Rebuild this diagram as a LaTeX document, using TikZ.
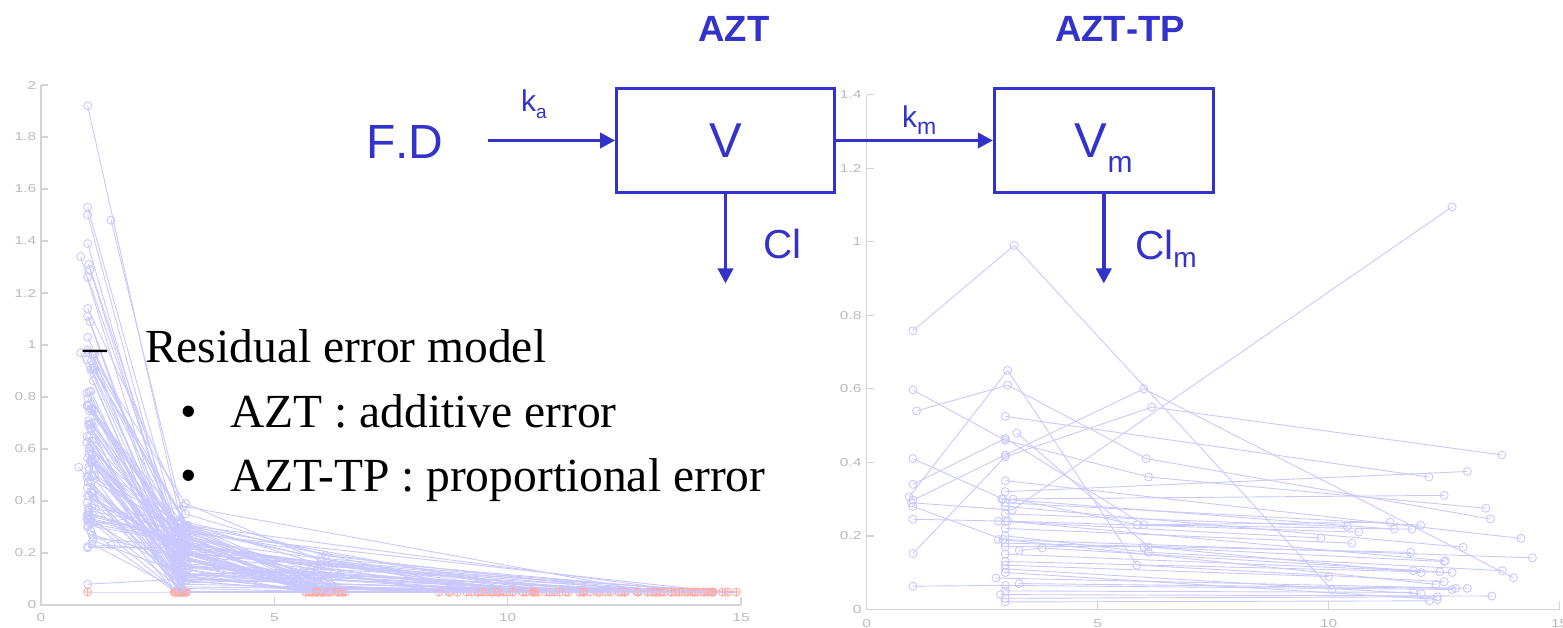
\documentclass[tikz,border=0pt]{standalone}
\usepackage{fontspec}
\setmainfont{Liberation Serif}
\newfontfamily\arialfont[Kerning=Off]{Liberation Sans}
\usepackage{graphicx}
\usetikzlibrary{arrows.meta}

\definecolor{pkblue}{RGB}{51,51,204}
\definecolor{lavline}{RGB}{200,200,255}
\definecolor{blqpink}{RGB}{255,172,168}
\definecolor{axisgray}{RGB}{212,212,212}
\definecolor{ticklabel}{RGB}{186,186,186}

\newcommand\fsz[1]{\fontsize{#1}{#1}\selectfont}
\newcommand\ticktxt[1]{\scalebox{1.35}[1]{#1}}

% pink marker for a sample below the quantification limit
\newcommand\blqat[1]{\draw[blqc] #1 circle (4) #1 ++(-4.5,0) -- ++(9,0) #1 ++(0,-4.5) -- ++(0,9);}

% one AZT profile (time/conc list), closed by a BLQ sample at time #2
\newcommand\lsubj[2]{%
  \foreach \xt/\yc [count=\kk, remember=\xt as \xtp, remember=\yc as \ycp] in {#1}{%
    \ifnum\kk>1 \draw[lv] ({lx(\xtp)},{ly(\ycp)}) -- ({lx(\xt)},{ly(\yc)});\fi
    \draw[lv] ({lx(\xt)},{ly(\yc)}) circle (4);
    \xdef\lastxt{\xt}\xdef\lastyc{\yc}%
  }%
  \draw[lv] ({lx(\lastxt)},{ly(\lastyc)}) -- ({lx(#2)},{ly(0.05)});
  \blqat{({lx(#2)},{ly(0.05)})}%
}
% one AZT-TP profile (time/conc list)
\newcommand\rsubj[1]{%
  \foreach \xt/\yc [count=\kk, remember=\xt as \xtp, remember=\yc as \ycp] in {#1}{%
    \ifnum\kk>1 \draw[lv] ({rx(\xtp)},{ry(\ycp)}) -- ({rx(\xt)},{ry(\yc)});\fi
    \draw[lv] ({rx(\xt)},{ry(\yc)}) circle (4);
  }%
}

\tikzset{
  lv/.style={draw=lavline, line width=0.9pt},
  blqc/.style={draw=blqpink, line width=0.9pt},
  axisline/.style={draw=axisgray, line width=1.4pt},
  ticklab/.style={text=ticklabel, font=\arialfont\fsz{11.5}, inner sep=0pt},
  comp/.style={draw=pkblue, line width=2.7pt, minimum width=218pt, minimum height=104.5pt,
    text height=35pt, text depth=0pt, inner sep=0pt, text=pkblue, font=\arialfont\fsz{49}},
  flow/.style={draw=pkblue, line width=3.6pt, -{Triangle[length=15pt,width=15pt]}},
  bluetext/.style={text=pkblue, inner sep=0pt},
  slide/.style={text=black, inner sep=0pt, font=\fsz{47.5}},
}

\begin{document}
\begin{tikzpicture}[x=1pt, y=-1pt,
  declare function={lx(\q)=41+46.67*\q; ly(\q)=605-260*\q;
                    rx(\q)=866.7+46.2*\q; ry(\q)=609.3-367.5*\q;}]
\useasboundingbox (0,0) rectangle (1563,628);
\clip (0,0) rectangle (1563,628);

% ---------- left axes (AZT) ----------
\draw[axisline] ({lx(0)},{ly(2)}) -- ({lx(0)},{ly(0)}) -- ({lx(15)},{ly(0)});
\foreach \lab [count=\kk from 0] in {0,0.2,0.4,0.6,0.8,1,1.2,1.4,1.6,1.8,2}{
  \draw[axisline] ({lx(0)},{ly(\lab)}) -- ++(7,0);
  \node[ticklab, anchor=east] (lyt\kk) at ({lx(0)-4.5},{ly(\lab)}) {\ticktxt{\lab}};
}
\foreach \lab in {0,5,10,15}{
  \draw[axisline] ({lx(\lab)},{ly(0)}) -- ++(0,-8);
  \node[ticklab] (lxt\lab) at ({lx(\lab)},618) {\ticktxt{\lab}};
}

% ---------- right axes (AZT-TP) ----------
\draw[axisline] ({rx(0)},{ry(1.4)}) -- ({rx(0)},{ry(0)}) -- ({rx(15)},{ry(0)});
\foreach \lab [count=\kk from 0] in {0,0.2,0.4,0.6,0.8,1,1.2,1.4}{
  \draw[axisline] ({rx(0)},{ry(\lab)}) -- ++(7,0);
  \node[ticklab, anchor=east] (ryt\kk) at ({rx(0)-5},{ry(\lab)}) {\ticktxt{\lab}};
}
\foreach \lab in {0,5,10,15}{
  \draw[axisline] ({rx(\lab)},{ry(0)}) -- ++(0,-8);
  \node[ticklab] (rxt\lab) at ({rx(\lab)},623.3) {\ticktxt{\lab}};
}

% ---------- AZT concentrations ----------
\lsubj{1.0/1.92, 3.0/0.32, 6.1/0.15}{14.9}
\lsubj{1.0/1.53, 3.0/0.25, 5.9/0.12}{13.2}
\lsubj{1.0/1.50, 2.95/0.2}{12.5}
\lsubj{1.5/1.48, 3.1/0.3, 6.0/0.18}{14.3}
\lsubj{1.0/1.39, 3.0/0.15}{11.0}
\lsubj{0.85/1.34, 2.95/0.12, 6.2/0.08}{13.8}
\lsubj{1.02/1.31, 3.05/0.22}{12.1}
\lsubj{1.05/1.29, 3.0/0.18, 5.8/0.1}{10.4}
\lsubj{1.0/1.26, 2.9/0.28}{14.6}
\lsubj{1.0/1.14, 3.1/0.35, 6.1/0.19}{13.0}
\lsubj{1.0/1.11, 3.0/0.1}{11.6}
\lsubj{1.05/1.09, 2.95/0.16}{12.8}
\lsubj{1.0/1.03, 3.0/0.27, 6.0/0.14}{14.0}
\lsubj{0.85/0.97, 3.0/0.08}{10.9}
\lsubj{0.81/0.53, 3.0/0.07}{11.3}
\lsubj{1.0/0.08, 3.0/0.1}{12.2}
\lsubj{1.0/0.225, 1.5/0.23, 3.0/0.2}{13.5}
\lsubj{1.0/0.22, 3.0/0.22}{9.8}
\lsubj{1.0/0.98, 3.1/0.39, 6.0/0.17}{14.4}
\lsubj{1.0/0.3, 3.05/0.38}{13.1}
\draw[lv] ({lx(1.0)},{ly(0.05)}) -- ({lx(3.0)},{ly(0.05)}) -- ({lx(14.9)},{ly(0.05)});
\blqat{({lx(1.0)},{ly(0.05)})}
\blqat{({lx(3.0)},{ly(0.05)})}

\pgfmathsetseed{31415}
\foreach \i in {1,...,84}{
  \pgfmathsetmacro\ta{0.98+0.17*rnd}
  \pgfmathsetmacro\ca{0.22+0.9*(0.75*rnd+0.25*rnd*rnd)}
  \pgfmathsetmacro\tb{2.85+0.32*rnd}
  \pgfmathsetmacro\cb{0.06+0.35*(0.7*rnd+0.3*rnd*rnd)}
  \pgfmathtruncatemacro\bb{rnd<0.14}
  \pgfmathsetmacro\tc{5.55+1.0*rnd}
  \pgfmathsetmacro\cc{0.06+0.13*rnd*rnd}
  \pgfmathtruncatemacro\bc{rnd<0.3}
  \pgfmathsetmacro\td{8.5+6.3*rnd}
  \pgfmathtruncatemacro\kind{rnd<0.45 ? 0 : (rnd<0.6 ? 1 : 2)}
  \draw[lv] ({lx(\ta)},{ly(\ca)}) circle (4);
  \ifnum\bb=1
    \draw[lv] ({lx(\ta)},{ly(\ca)}) -- ({lx(\tb)},{ly(0.05)}) -- ({lx(\td)},{ly(0.05)});
    \blqat{({lx(\tb)},{ly(0.05)})}
    \blqat{({lx(\td)},{ly(0.05)})}
  \else
    \draw[lv] ({lx(\ta)},{ly(\ca)}) -- ({lx(\tb)},{ly(\cb)});
    \draw[lv] ({lx(\tb)},{ly(\cb)}) circle (4);
    \ifnum\kind=2
      \draw[lv] ({lx(\tb)},{ly(\cb)}) -- ({lx(\td)},{ly(0.05)});
      \blqat{({lx(\td)},{ly(0.05)})}
    \else
      \ifnum\bc=1
        \draw[lv] ({lx(\tb)},{ly(\cb)}) -- ({lx(\tc)},{ly(0.05)});
        \blqat{({lx(\tc)},{ly(0.05)})}
        \ifnum\kind=0
          \draw[lv] ({lx(\tc)},{ly(0.05)}) -- ({lx(\td)},{ly(0.05)});
          \blqat{({lx(\td)},{ly(0.05)})}
        \fi
      \else
        \draw[lv] ({lx(\tb)},{ly(\cb)}) -- ({lx(\tc)},{ly(\cc)});
        \draw[lv] ({lx(\tc)},{ly(\cc)}) circle (4);
        \ifnum\kind=0
          \draw[lv] ({lx(\tc)},{ly(\cc)}) -- ({lx(\td)},{ly(0.05)});
          \blqat{({lx(\td)},{ly(0.05)})}
        \fi
      \fi
    \fi
  \fi
}

% ---------- AZT-TP concentrations ----------
\rsubj{1.0/0.758, 3.19/0.99, 10.07/0.053}
\rsubj{1.0/0.597, 3.0/0.46, 6.1/0.36, 13.4/0.275}
\rsubj{1.08/0.54, 3.05/0.61, 6.05/0.41, 13.5/0.246}
\rsubj{1.0/0.41, 2.95/0.30, 12.5/0.31}
\rsubj{1.0/0.34, 3.0/0.465, 6.0/0.23, 11.33/0.237}
\rsubj{0.92/0.306, 3.05/0.65, 5.85/0.12, 12.5/0.075}
\rsubj{1.0/0.297, 3.0/0.42, 6.0/0.60, 14.0/0.086}
\rsubj{1.0/0.152, 3.0/0.415, 6.17/0.55, 13.75/0.42}
\rsubj{1.0/0.28, 2.95/0.19, 12.32/0.068}
\rsubj{1.0/0.245, 3.0/0.24, 12.52/0.132}
\rsubj{1.0/0.063, 3.0/0.065, 12.67/0.054}
\rsubj{0.97/0.29, 3.15/0.27, 12.67/1.095}
\rsubj{3.0/0.525, 12.17/0.36}
\rsubj{3.25/0.48, 6.1/0.17, 12.0/0.1}
\rsubj{3.0/0.35, 14.16/0.193}
\rsubj{3.0/0.32, 13.0/0.375}
\rsubj{2.92/0.30, 11.42/0.218}
\rsubj{3.17/0.30, 5.85/0.23, 11.8/0.218}
\rsubj{3.0/0.29, 11.99/0.229}
\rsubj{3.0/0.28, 12.91/0.169}
\rsubj{3.0/0.26, 10.4/0.225}
\rsubj{3.05/0.24, 10.65/0.21}
\rsubj{2.85/0.24, 9.83/0.194}
\rsubj{3.0/0.22, 10.5/0.18}
\rsubj{3.0/0.2, 6.1/0.155, 13.76/0.105}
\rsubj{2.85/0.19, 14.41/0.14}
\rsubj{3.0/0.18, 11.77/0.155}
\rsubj{3.3/0.16, 3.8/0.167, 12.4/0.102}
\rsubj{3.0/0.15, 11.83/0.105}
\rsubj{3.0/0.13, 12.67/0.10}
\rsubj{3.0/0.12, 10.0/0.089}
\rsubj{3.0/0.11, 12.0/0.042}
\rsubj{2.8/0.085, 13.0/0.057}
\rsubj{3.3/0.07, 12.75/0.057}
\rsubj{3.0/0.05, 11.83/0.046}
\rsubj{2.9/0.04, 13.53/0.036}
\rsubj{3.0/0.03, 12.35/0.034}
\rsubj{3.0/0.02, 12.18/0.023}
\rsubj{3.0/0.1, 12.35/0.027}
\rsubj{3.0/0.17, 6.0/0.17, 12.5/0.13}

% ---------- compartment model ----------
\node[bluetext, font=\arialfont\bfseries\fsz{36.5}, anchor=base] (azt) at (734,42) {AZT};
\node[bluetext, font=\arialfont\bfseries\fsz{36.5}, anchor=base] (azttp) at (1120,42) {AZT-TP};

\node[comp] (v) at (725.5,140.5) {V};
\node[comp, minimum width=219pt] (vm) at (1103.8,140.5) {V\raisebox{-14.5pt}{\fsz{30}m}};

\node[bluetext, font=\arialfont\fsz{48}, anchor=base west] (fd) at (366,159) {F.D};
\node[bluetext, font=\arialfont\fsz{30}, anchor=base west] (ka) at (521,111.7) {k\raisebox{-6.5pt}{\fsz{19}a}};
\node[bluetext, font=\arialfont\fsz{30}, anchor=base west] (km) at (902,128) {k\raisebox{-7pt}{\fsz{23}m}};
\node[bluetext, font=\arialfont\fsz{40.5}, anchor=base west] (cl) at (763,258.3) {Cl};
\node[bluetext, font=\arialfont\fsz{40.5}, anchor=base west] (clm) at (1135,259.5) {Cl\raisebox{-8.5pt}{\fsz{28}m}};

\coordinate (kain) at (488,140.5);
\coordinate (clout) at (725.5,283.5);
\coordinate (clmout) at (1103.8,283.5);
\draw[flow] (kain) -- (v.west);
\draw[flow] (v.east) -- (vm.west);
\draw[flow] (v.south) -- (clout);
\draw[flow] (vm.south) -- (clmout);

% ---------- slide text ----------
\node[slide, anchor=base west] (dash) at (83,362) {–};
\node[slide, anchor=base west] (l1) at (145,362) {Residual error model};
\node[slide, anchor=base west] (b1) at (180,427) {•};
\node[slide, anchor=base west] (l2) at (230,427) {AZT : additive error};
\node[slide, anchor=base west] (b2) at (180,491) {•};
\node[slide, anchor=base west] (l3) at (230,491) {AZT-TP : proportional error};
\end{tikzpicture}
\end{document}
